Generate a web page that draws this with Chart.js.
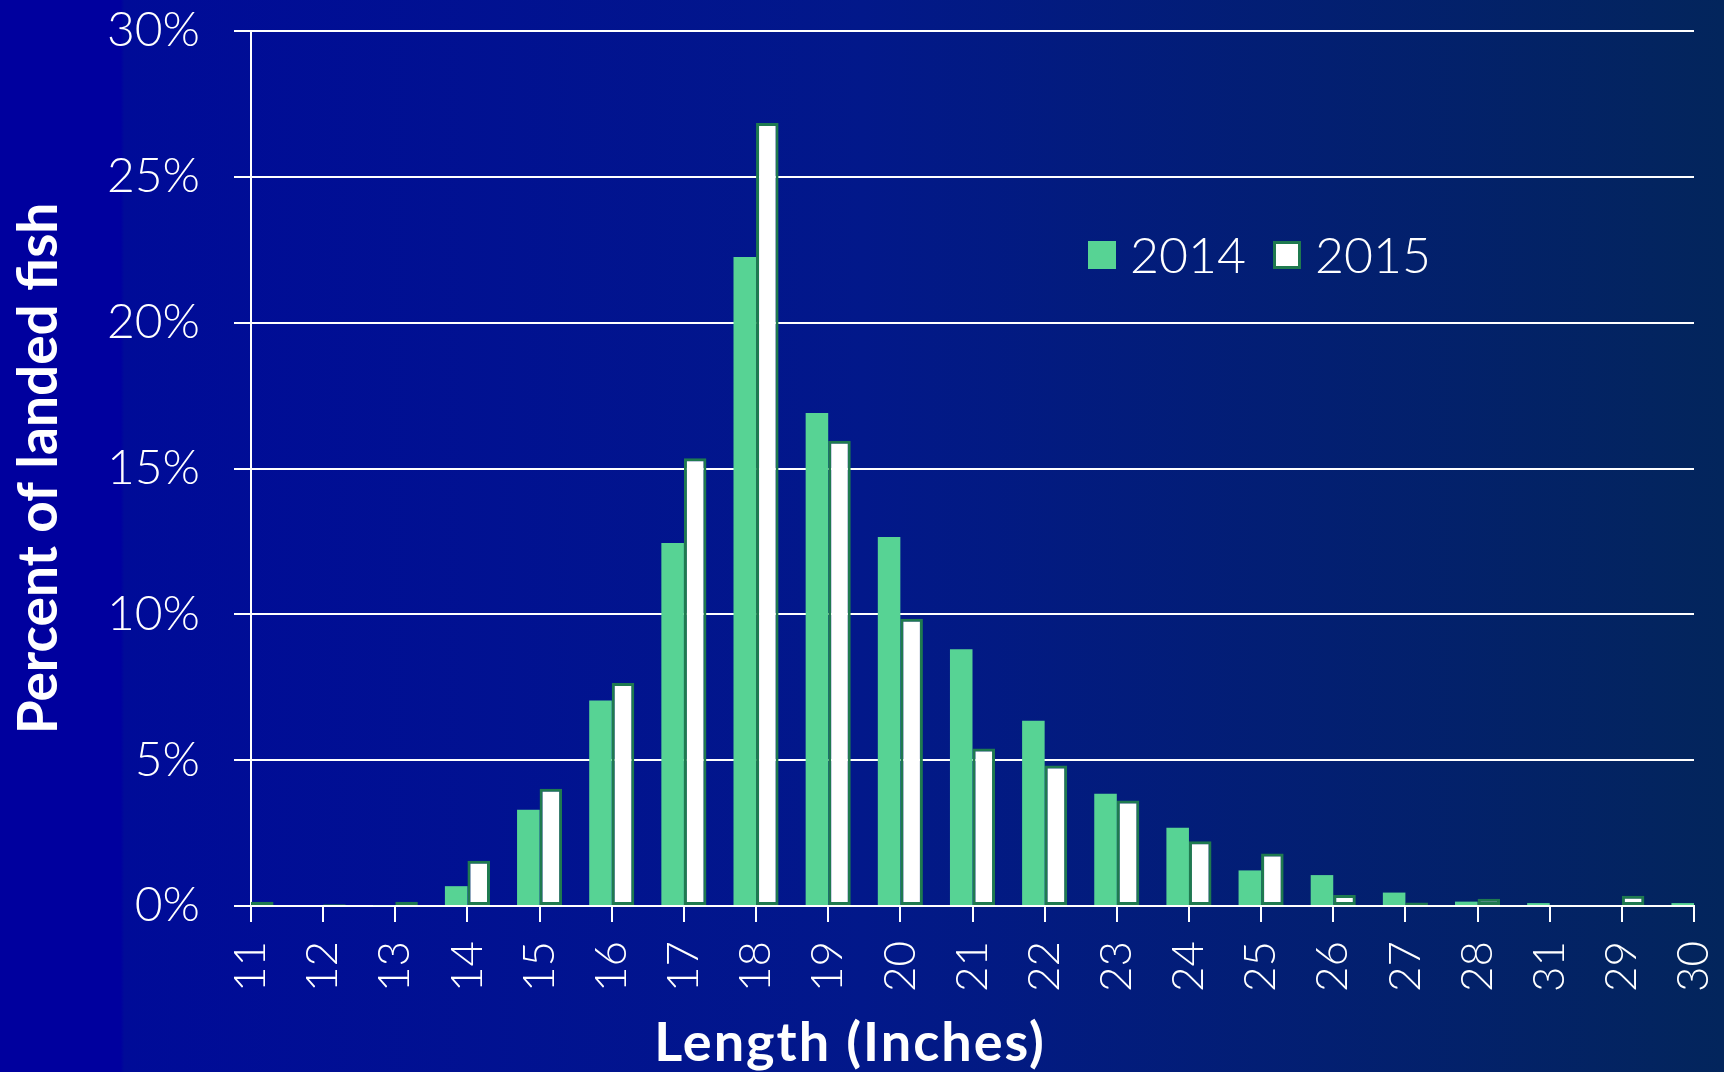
<!DOCTYPE html>
<html>
<head>
<meta charset="utf-8">
<script src="https://cdn.jsdelivr.net/npm/chart.js@4"></script>
<style>
  html, body { margin: 0; padding: 0; }
  body {
    width: 1724px; height: 1072px; overflow: hidden;
    background: linear-gradient(to right, #00009e 0%, #00009e 7%, #000b98 7.2%, #02188a 50%, #03255c 100%);
  }
  #wrap { width: 1724px; height: 1072px; }
</style>
</head>
<body>
<div id="wrap"><canvas id="lengthChart"></canvas></div>
<script>
// categories (inch classes, in the order shown)
const lengths = ['11','12','13','14','15','16','17','18','19','20','21','22','23','24','25','26','27','28','31','29','30']

// percent of landed fish
const pct2014 = [0.1, 0, 0.03, 0.68, 3.3, 7.05, 12.45, 22.25, 16.9, 12.65, 8.8, 6.35, 3.85, 2.68, 1.22, 1.06, 0.46, 0.15, 0.1, 0, 0.1]
const pct2015 = [0.15, 0.06, 0.15, 1.55, 4.02, 7.65, 15.35, 26.85, 15.95, 9.85, 5.4, 4.82, 3.62, 2.22, 1.8, 0.38, 0.12, 0.25, 0.04, 0.35, 0.1]

const yTicks = [0, 5, 10, 15, 20, 25, 30]

const lightFont = 'Lato'
const green = '#57d394'
const darkGreen = '#1f7a4f'

// drop the label overflow padding, the layout padding places the plot
const noPad = s => {
  s.paddingTop = 0
  s.paddingBottom = 0
  s.paddingLeft = 0
  s.paddingRight = 0
}

// legend + x title drawn as text on the canvas
const overlayText = {
  id: 'overlayText',
  afterDraw(chart) {
    const ctx = chart.ctx
    ctx.save()
    // legend
    ctx.font = '300 50px ' + lightFont
    ctx.textBaseline = 'middle'
    ctx.textAlign = 'left'
    let x = 1088
    const y = 255
    chart.data.datasets.forEach(ds => {
      ctx.fillStyle = ds.backgroundColor
      ctx.fillRect(x, y - 14, 28, 28)
      if (ds.borderWidth) {
        ctx.strokeStyle = ds.borderColor
        ctx.lineWidth = 3
        ctx.strokeRect(x + 1.5, y - 12.5, 25, 25)
      }
      ctx.fillStyle = '#ffffff'
      ctx.fillText(ds.label, x + 42, y + 2)
      x += 42 + ctx.measureText(ds.label).width + 27
    })
    // x axis title
    ctx.font = 'bold 54px ' + lightFont
    ctx.letterSpacing = '2px'
    ctx.textAlign = 'center'
    ctx.fillText('Length (Inches)', 850, 1044)
    ctx.restore()
  }
}

new Chart(document.getElementById('lengthChart'), {
  type: 'bar',
  data: {
    labels: lengths,
    datasets: [{
      label: '2014',
      data: pct2014,
      backgroundColor: green,
      borderWidth: 0,
      clip: 0
    }, {
      label: '2015',
      data: pct2015,
      backgroundColor: '#ffffff',
      borderColor: darkGreen,
      borderWidth: 3,
      borderSkipped: false,
      clip: 0
    }]
  },
  options: {
    responsive: true,
    maintainAspectRatio: false,
    animation: false,
    datasets: { bar: { categoryPercentage: 0.625, barPercentage: 1.0 } },
    layout: { padding: { top: 31, right: 30, left: 0, bottom: 0 } },
    plugins: {
      legend: { display: false },
      tooltip: { enabled: false }
    },
    scales: {
      x: {
        offset: false,
        grid: {
          offset: false,
          drawOnChartArea: false,
          color: '#ffffff',
          lineWidth: 2,
          tickLength: 16
        },
        border: { color: '#ffffff', width: 2 },
        ticks: {
          color: '#ffffff',
          font: { family: lightFont, size: 44, weight: '300' },
          maxRotation: 90,
          minRotation: 90,
          autoSkip: false,
          padding: 19
        },
        afterFit: s => { s.height = 1072 - 906; noPad(s) }
      },
      y: {
        min: 0,
        max: 30,
        afterBuildTicks: s => { s.ticks = yTicks.map(v => ({ value: v })) },
        grid: {
          color: '#ffffff',
          lineWidth: 2,
          tickLength: 17
        },
        border: { color: '#ffffff', width: 2 },
        ticks: {
          color: '#ffffff',
          font: { family: lightFont, size: 48, weight: '300' },
          padding: 34,
          callback: v => v + '%'
        },
        title: {
          display: true,
          text: 'Percent of landed fish',
          color: '#ffffff',
          font: { family: lightFont, size: 55, weight: 'bold' },
          padding: { top: 6, bottom: 0 }
        },
        afterFit: s => { s.width = 251; noPad(s) }
      }
    }
  },
  plugins: [overlayText]
})
</script>
</body>
</html>
